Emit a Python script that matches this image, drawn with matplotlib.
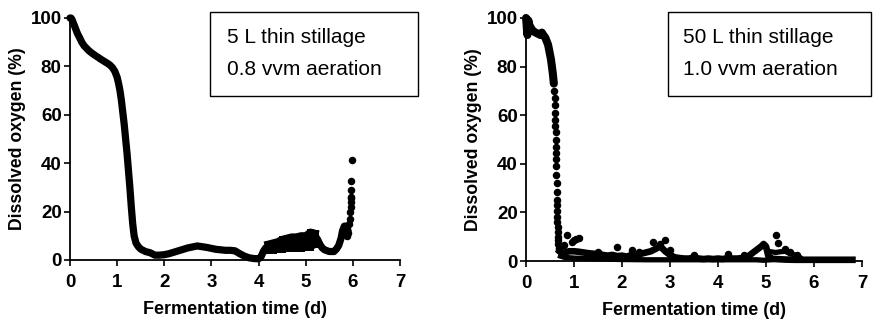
import matplotlib
matplotlib.use("Agg")
import matplotlib.pyplot as plt
from matplotlib.patches import Rectangle

plt.rcParams['font.family'] = ['Liberation Sans', 'DejaVu Sans']

# ---- Left panel: 5 L thin stillage, 0.8 vvm ----
l_t = [0.00, 0.02, 0.04, 0.06, 0.08, 0.10, 0.13, 0.16, 0.20, 0.25, 0.30, 0.35,
       0.40, 0.45, 0.50, 0.55, 0.60, 0.65, 0.70, 0.75, 0.80, 0.85, 0.90, 0.95,
       1.00, 1.03, 1.06, 1.09, 1.12, 1.15, 1.18, 1.21, 1.24, 1.27, 1.30, 1.33,
       1.36, 1.40, 1.45, 1.50, 1.55, 1.60, 1.70, 1.80, 1.90, 2.00, 2.10, 2.20,
       2.30, 2.40, 2.50, 2.60, 2.70, 2.80, 2.90, 3.00, 3.10, 3.20, 3.30, 3.40,
       3.50, 3.55, 3.60, 3.70, 3.80, 3.90, 4.00, 4.05, 4.10, 4.15, 4.20, 4.30,
       4.40, 4.50, 4.60, 4.70, 4.80, 4.90, 5.00, 5.10, 5.15, 5.20, 5.25, 5.30,
       5.35, 5.40, 5.50, 5.60, 5.65, 5.70, 5.75, 5.78, 5.82, 5.86, 5.90]
l_v = [100, 100, 99.5, 98.5, 97.5, 96.5, 95, 93.5, 92, 90, 88.5, 87.5,
       86.5, 85.7, 85, 84.3, 83.7, 83, 82.4, 81.8, 81.2, 80.5, 79.5, 78,
       75.5, 73, 70, 66, 61, 56, 50, 44, 37, 30, 22, 15,
       10, 7, 5.5, 4.5, 4, 3.5, 3, 2, 2, 2.2, 2.6, 3.2,
       3.8, 4.4, 5, 5.4, 5.8, 5.5, 5.2, 4.8, 4.4, 4.2, 4.0, 4.0,
       3.8, 3.2, 2.6, 1.6, 0.9, 0.6, 0.5, 1.2, 3.5, 5, 5.5, 5.8,
       6.2, 6.8, 7.5, 8, 7.8, 8.2, 8.5, 10, 11, 10, 8.5, 6.5,
       5, 4.2, 3.5, 3.5, 4.5, 6, 9, 12, 14, 14, 12]
# band of scatter between 4.2 and 5.3 d
l_band_t = [4.20, 4.30, 4.40, 4.50, 4.60, 4.70, 4.80, 4.90, 5.00, 5.10, 5.20]
l_band_lo = [4.0, 4.2, 4.5, 4.5, 4.8, 5.0, 4.8, 5.0, 5.2, 5.5, 6.5]
l_band_hi = [6.5, 7.0, 7.5, 8.5, 9.0, 9.5, 9.5, 10.0, 10.0, 11.5, 11.0]
# isolated points at the end
l_end_t = [5.88, 5.90, 5.92, 5.93, 5.94, 5.95, 5.96, 5.97, 5.97, 5.96, 5.95, 5.98]
l_end_v = [10, 11, 15, 17, 20, 22, 24, 26, 29, 25.5, 32.5, 41.5]

# ---- Right panel: 50 L thin stillage, 1.0 vvm ----
r_t = [0.00, 0.01, 0.02, 0.03, 0.05, 0.07, 0.10, 0.13, 0.16, 0.20, 0.25, 0.30,
       0.33, 0.36, 0.40, 0.43, 0.46, 0.49, 0.52, 0.54, 0.56, 0.58]
r_v = [100, 98, 95, 93, 99, 97, 96, 95, 94.5, 94, 93.5, 93,
       94, 93, 92, 90.5, 89, 86, 83, 80, 77, 73]
r_drop_t = [0.59, 0.595, 0.60, 0.605, 0.61, 0.612, 0.615, 0.62, 0.622, 0.625,
            0.628, 0.63, 0.633, 0.636, 0.64, 0.643, 0.646, 0.65, 0.653, 0.656,
            0.66, 0.663, 0.666, 0.67, 0.675, 0.68, 0.69]
r_drop_v = [70, 67, 64, 61, 58, 55.5, 53, 50, 47, 44.5, 42, 39, 35.5, 32, 28.5,
            25, 23, 20.5, 18, 16, 14, 12, 10, 8.5, 7, 5.5, 4.5]
r_base_t = [0.70, 0.75, 0.80, 0.90, 1.00, 1.10, 1.20, 1.30, 1.40, 1.50, 1.60,
            1.70, 1.80, 1.90, 2.00, 2.10, 2.20, 2.30, 2.40, 2.50, 2.60, 2.70,
            2.80, 2.90, 3.00, 3.10, 3.20, 3.30, 3.40, 3.50, 3.60, 3.70, 3.80,
            3.90, 4.00, 4.10, 4.20, 4.30, 4.40, 4.50, 4.60, 4.70, 4.80, 4.90,
            4.95, 5.00, 5.05, 5.10, 5.20, 5.40, 5.60, 5.80, 6.00, 6.20, 6.40,
            6.60, 6.80]
r_base_v = [4, 3.2, 3.5, 4, 4, 3.8, 3.5, 3.2, 3, 2.8, 2.5,
            2.2, 2.5, 2, 2.2, 1.8, 2.5, 2, 3, 3.5, 4, 5,
            6, 4, 2.5, 1.5, 1.2, 1, 1, 1.5, 1, 0.8, 1,
            0.8, 1, 0.8, 1.2, 1, 1, 1.2, 1.5, 3, 4.5, 6,
            7, 6, 2, 1, 0.8, 0.6, 0.5, 0.5, 0.5, 0.5, 0.5,
            0.5, 0.5]
r_low_t = [0.72, 0.80, 1.00, 1.30, 1.60, 2.00, 2.50, 3.00, 3.50, 4.00, 4.50,
           4.80, 4.95, 5.10]
r_low_v = [2, 1.5, 1.2, 1, 0.8, 0.6, 0.5, 0.5, 0.5, 0.5, 0.5, 0.5, 0.3, 0.5]
r_up_t = [5.05, 5.10, 5.20, 5.30, 5.40, 5.50, 5.60, 5.70]
r_up_v = [4, 3.8, 3.5, 3.8, 4, 3, 2.5, 1.5]
r_dot_t = [0.80, 0.85, 0.95, 1.00, 1.05, 1.10, 1.50, 1.90, 2.20, 2.35, 2.65,
           2.80, 2.90, 3.00, 3.50, 4.20, 4.55, 5.20, 5.25, 5.40, 5.50, 5.65]
r_dot_v = [6.5, 10.5, 8, 8.5, 9, 9.5, 3.5, 5.8, 4.5, 3.8, 8,
           7, 8.5, 4.5, 2.5, 2.8, 2.3, 10.5, 7.5, 5, 3.5, 2.5]

xticks = [0, 1, 2, 3, 4, 5, 6, 7]
yticks = [0, 20, 40, 60, 80, 100]
xlabel = "Fermentation time (d)"
ylabel = "Dissolved oxygen (%)"
left_box = ["5 L thin stillage", "0.8 vvm aeration"]
right_box = ["50 L thin stillage", "1.0 vvm aeration"]

W, H = 873, 322
fig = plt.figure(figsize=(W / 100, H / 100), dpi=100)

ax1 = fig.add_axes([70 / W, 1 - 260 / H, 330 / W, 242 / H])
ax2 = fig.add_axes([526 / W, 1 - 261 / H, 336 / W, 243 / H])

K = 'black'
MS = 4.4
LW = 5.2
# left
ax1.plot(l_t, l_v, '-', color=K, lw=LW, solid_joinstyle='round',
         solid_capstyle='round', clip_on=False, zorder=3)
ax1.plot(l_band_t, l_band_lo, '-', color=K, lw=LW, clip_on=False, zorder=3)
ax1.plot(l_band_t, l_band_hi, '-', color=K, lw=LW, clip_on=False, zorder=3)
for a, b, c in zip(l_band_t, l_band_lo, l_band_hi):
    ax1.plot([a, a], [b, c], '-', color=K, lw=5, zorder=3)
ax1.plot(l_end_t, l_end_v, 'o', color=K, ms=MS, clip_on=False, zorder=3)

# right
ax2.plot(r_t, r_v, '-', color=K, lw=5.8, solid_joinstyle='round',
         solid_capstyle='round', clip_on=False, zorder=3)
ax2.plot(r_drop_t, r_drop_v, 'o', color=K, ms=MS, clip_on=False, zorder=3)
ax2.plot(r_base_t, r_base_v, '-', color=K, lw=4.8, solid_joinstyle='round',
         clip_on=False, zorder=3)
ax2.plot(r_low_t, r_low_v, '-', color=K, lw=3.8, clip_on=False, zorder=3)
ax2.plot(r_up_t, r_up_v, '-', color=K, lw=3.8, clip_on=False, zorder=3)
ax2.plot(r_dot_t, r_dot_v, 'o', color=K, ms=MS, clip_on=False, zorder=3)

for ax in (ax1, ax2):
    ax.set_xlim(0, 7)
    ax.set_ylim(0, 100)
    ax.set_xticks(xticks)
    ax.set_yticks(yticks)
    ax.spines['top'].set_visible(False)
    ax.spines['right'].set_visible(False)
    ax.spines['left'].set_linewidth(1.3)
    ax.spines['bottom'].set_linewidth(1.3)
    ax.tick_params(direction='out', length=4, width=1.2, labelsize=13.5,
                   colors='black')
    ax.tick_params(axis='x', pad=6)
    ax.tick_params(axis='y', pad=2)
    for lab in ax.get_xticklabels() + ax.get_yticklabels():
        lab.set_fontweight('bold')
    ax.set_xlabel(xlabel, fontsize=13, fontweight='bold', labelpad=7)
    ax.set_ylabel(ylabel, fontsize=12.7, fontweight='bold', labelpad=3)

# boxes in figure coordinates
for (x0, x1, x_txt, lines) in [(210, 418, 227, left_box), (668, 871, 683, right_box)]:
    fig.patches.append(Rectangle((x0 / W, 1 - 96 / H), (x1 - x0) / W, 84 / H,
                                 transform=fig.transFigure, fill=False,
                                 edgecolor='black', lw=1.0))
    fig.text(x_txt / W, 1 - 43 / H, lines[0], fontsize=15, va='baseline')
    fig.text(x_txt / W, 1 - 75 / H, lines[1], fontsize=15, va='baseline')

fig.savefig("out.png", dpi=100)
